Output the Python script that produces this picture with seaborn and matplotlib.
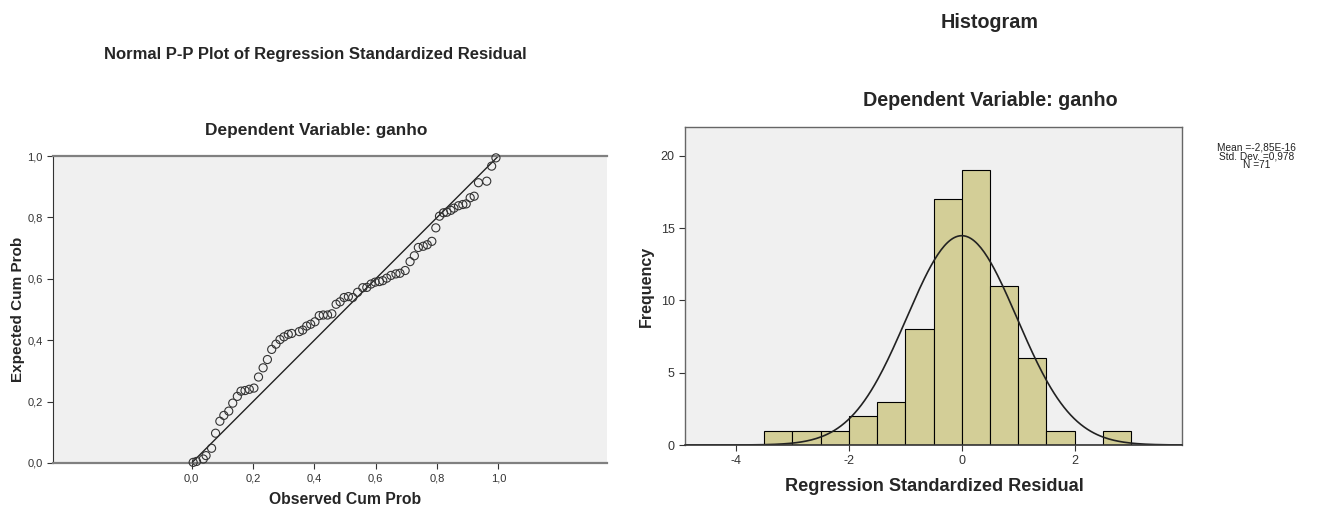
import numpy as np
import pandas as pd
import matplotlib
matplotlib.use("Agg")
import matplotlib.pyplot as plt
import seaborn as sns

# P-P plot
obs_cum_prob = [0.005, 0.016, 0.038, 0.047, 0.065, 0.078, 0.092, 0.105, 0.121, 0.134,
                0.149, 0.161, 0.174, 0.188, 0.203, 0.218, 0.233, 0.247, 0.261, 0.275,
                0.288, 0.301, 0.315, 0.326, 0.351, 0.362, 0.375, 0.388, 0.402, 0.416,
                0.429, 0.443, 0.457, 0.471, 0.484, 0.497, 0.511, 0.525, 0.541, 0.558,
                0.571, 0.585, 0.598, 0.612, 0.623, 0.636, 0.650, 0.666, 0.679, 0.696,
                0.712, 0.726, 0.739, 0.755, 0.768, 0.783, 0.796, 0.808, 0.821, 0.832,
                0.845, 0.855, 0.870, 0.884, 0.895, 0.908, 0.921, 0.935, 0.962, 0.978,
                0.992]
exp_cum_prob = [0.002, 0.005, 0.013, 0.024, 0.048, 0.097, 0.136, 0.155, 0.169, 0.195,
                0.217, 0.234, 0.236, 0.240, 0.244, 0.280, 0.310, 0.337, 0.370, 0.387,
                0.402, 0.411, 0.419, 0.422, 0.428, 0.433, 0.446, 0.452, 0.460, 0.480,
                0.482, 0.482, 0.486, 0.517, 0.525, 0.539, 0.542, 0.539, 0.556, 0.571,
                0.572, 0.583, 0.589, 0.591, 0.594, 0.602, 0.611, 0.616, 0.618, 0.627,
                0.656, 0.675, 0.702, 0.706, 0.711, 0.722, 0.766, 0.804, 0.815, 0.817,
                0.823, 0.830, 0.838, 0.842, 0.844, 0.864, 0.869, 0.913, 0.918, 0.967,
                0.994]
ref_line = [0.0, 1.0]
pp_ticks = [0.0, 0.2, 0.4, 0.6, 0.8, 1.0]
pp_tick_labels = ["0,0", "0,2", "0,4", "0,6", "0,8", "1,0"]

# Histograma dos residuos
bin_centers = [-3.25, -2.75, -2.25, -1.75, -1.25, -0.75, -0.25, 0.25, 0.75, 1.25, 1.75, 2.25, 2.75]
frequencies = [1, 1, 1, 2, 3, 8, 17, 19, 11, 6, 1, 0, 1]
bin_width = 0.5
hist_xticks = [-4, -2, 0, 2]
hist_yticks = [0, 5, 10, 15, 20]
res_mean = -2.85e-16
res_sd = 0.978
n_obs = 71

sns.set_style("white")
plt.rcParams["font.family"] = ["Liberation Sans", "DejaVu Sans"]
plt.rcParams["axes.unicode_minus"] = False

fig = plt.figure(figsize=(13.21, 5.08), dpi=100)
bg = "#F0F0F0"

# ---- P-P plot ----
ax1 = fig.add_axes([0.0401, 0.0886, 0.4194, 0.6043])
ax1.set_facecolor(bg)
sns.lineplot(x=ref_line, y=ref_line, color="#222222", linewidth=1.0, ax=ax1)
sns.scatterplot(x=obs_cum_prob, y=exp_cum_prob, s=34, facecolor="none",
                edgecolor="#333333", linewidth=0.8, ax=ax1, zorder=3, clip_on=False)
ax1.set_xlim(-0.452, 1.354)
ax1.set_ylim(0, 1)
ax1.set_xticks(pp_ticks)
ax1.set_xticklabels(pp_tick_labels)
ax1.set_yticks(pp_ticks)
ax1.set_yticklabels(pp_tick_labels)
for side in ["top", "bottom"]:
    ax1.spines[side].set_color("#808080")
    ax1.spines[side].set_linewidth(1.6)
ax1.spines["left"].set_color("#333333")
ax1.spines["left"].set_linewidth(0.8)
ax1.spines["right"].set_visible(False)
ax1.tick_params(direction="out", length=4, width=0.8, labelsize=8, colors="#333333",
                left=True, bottom=True)
ax1.set_xlabel("Observed Cum Prob", fontsize=11.3, fontweight="bold", va="center")
ax1.set_ylabel("Expected Cum Prob", fontsize=11, fontweight="bold")
ax1.xaxis.set_label_coords(0.527, -0.118)
ax1.yaxis.set_label_coords(-0.05, 0.5)

fig.text(0.239, 0.892, "Normal P-P Plot of Regression Standardized Residual",
         ha="center", va="center", fontsize=12, fontweight="bold")
fig.text(0.239, 0.744, "Dependent Variable: ganho", ha="center", va="center",
         fontsize=12.4, fontweight="bold")

# ---- Histograma ----
ax2 = fig.add_axes([0.5186, 0.124, 0.3762, 0.626])
ax2.set_facecolor(bg)
sns.histplot(x=bin_centers, weights=frequencies, binwidth=bin_width, binrange=(-3.5, 3.0),
             color="#D3CE97", edgecolor="black", linewidth=0.8, alpha=1, ax=ax2)
ax2.set_xlim(-4.9, 3.9)
ax2.set_ylim(0, 22)
curve_x = np.linspace(-4.9, 3.9, 300)
curve_y = n_obs * bin_width * np.exp(-0.5 * ((curve_x - res_mean) / res_sd) ** 2) / (res_sd * np.sqrt(2 * np.pi))
sns.lineplot(x=curve_x, y=curve_y, color="#222222", linewidth=1.2, ax=ax2)
ax2.set_xticks(hist_xticks)
ax2.set_yticks(hist_yticks)
for side in ["top", "right", "left"]:
    ax2.spines[side].set_color("#666666")
    ax2.spines[side].set_linewidth(1.0)
ax2.spines["bottom"].set_color("#333333")
ax2.spines["bottom"].set_linewidth(1.2)
ax2.tick_params(direction="out", length=4, width=0.8, labelsize=9, colors="#333333",
                left=True, bottom=True)
ax2.set_xlabel("Regression Standardized Residual", fontsize=13.1, fontweight="bold", va="center")
ax2.set_ylabel("Frequency", fontsize=11.5, fontweight="bold")
ax2.xaxis.set_label_coords(0.501, -0.13)
ax2.yaxis.set_label_coords(-0.062, 0.5)

fig.text(0.7494, 0.955, "Histogram", ha="center", va="center", fontsize=14.2, fontweight="bold")
fig.text(0.7494, 0.803, "Dependent Variable: ganho", ha="center", va="center",
         fontsize=14.2, fontweight="bold")
fig.text(0.951, 0.72, "Mean =-2,85E-16\nStd. Dev. =0,978\nN =71", ha="center", va="top",
         fontsize=7.3, linespacing=0.85, color="#222222")

fig.savefig("out.png", dpi=100)
